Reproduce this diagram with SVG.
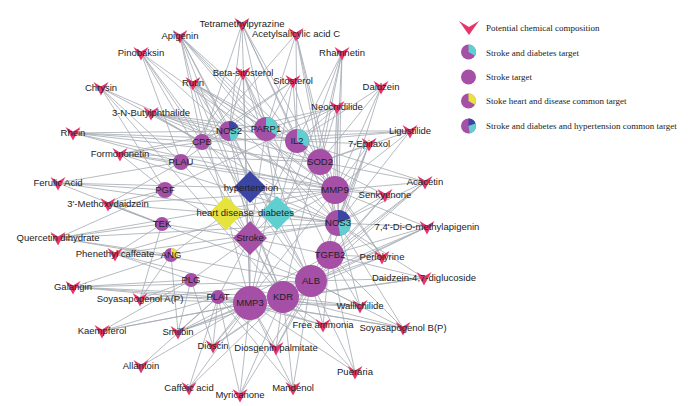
<svg xmlns="http://www.w3.org/2000/svg" xmlns:xlink="http://www.w3.org/1999/xlink" width="689" height="406" viewBox="0 0 689 406">
<style>
.e{stroke:#a3aab1;stroke-width:0.8;fill:none}
.lb{font-family:"Liberation Sans",Arial,sans-serif;font-size:9.5px;fill:#222;text-anchor:middle}
.lg{font-family:"Liberation Serif","Times New Roman",serif;font-size:9px;fill:#222}
.p{fill:#a54fa6}
.cy{fill:#5fcfd0}
.ye{fill:#e6e43c}
.bl{fill:#3b45a3}
.v{fill:#e8346b}
</style>
<defs>
<path id="v" class="v" d="M-7.5 -6L0 -1.5L7.5 -6L0 7.5Z"/>
</defs>
<rect width="689" height="406" fill="#fff"/>
<g id="connectors">
<path class="e" d="M180 36L229 131M180 36L266 129M180 36L202 142M180 36L320 162M180 36L335 190M180 36L338 223M180 36L311 281M180 36L283 297M180 36L250 303"/>
<path class="e" d="M242 24L229 131M242 24L266 129M242 24L297 141M242 24L202 142M242 24L335 190M242 24L338 223M242 24L250 303"/>
<path class="e" d="M296 34L266 129M296 34L297 141M296 34L320 162M296 34L338 223M296 34L335 190M296 34L202 142"/>
<path class="e" d="M141 53L229 131M141 53L202 142M141 53L181 162M141 53L335 190M141 53L311 281M141 53L283 297"/>
<path class="e" d="M342 53L297 141M342 53L320 162M342 53L335 190M342 53L338 223M342 53L283 297M342 53L250 303"/>
<path class="e" d="M193 83L229 131M193 83L266 129M193 83L297 141M193 83L320 162M193 83L335 190M193 83L338 223M193 83L311 281M193 83L283 297"/>
<path class="e" d="M243 73L229 131M243 73L266 129M243 73L181 162M243 73L335 190M243 73L330 255M243 73L311 281M243 73L250 303"/>
<path class="e" d="M293 81L266 129M293 81L297 141M293 81L202 142M293 81L338 223M293 81L250 303M293 81L181 162"/>
<path class="e" d="M101 88L202 142M101 88L181 162M101 88L165 190M101 88L335 190M101 88L283 297"/>
<path class="e" d="M381 87L297 141M381 87L320 162M381 87L335 190M381 87L338 223"/>
<path class="e" d="M337 107L229 131M337 107L266 129M337 107L165 190M337 107L297 141M337 107L320 162M337 107L338 223M337 107L330 255"/>
<path class="e" d="M151 113L229 131M151 113L202 142M151 113L266 129M151 113L297 141M151 113L320 162M151 113L335 190M151 113L338 223"/>
<path class="e" d="M410 131L297 141M410 131L320 162M410 131L335 190M410 131L338 223M410 131L202 142M410 131L229 131"/>
<path class="e" d="M73 133L229 131M73 133L202 142M73 133L181 162M73 133L297 141M73 133L320 162M73 133L335 190"/>
<path class="e" d="M369 144L297 141M369 144L320 162M369 144L335 190M369 144L338 223M369 144L330 255M369 144L311 281"/>
<path class="e" d="M120 154L202 142M120 154L181 162M120 154L165 190M120 154L335 190M120 154L338 223M120 154L320 162M120 154L229 131"/>
<path class="e" d="M425 182L320 162M425 182L335 190M425 182L338 223M425 182L330 255M425 182L283 297M425 182L311 281M425 182L297 141"/>
<path class="e" d="M385 195L320 162M385 195L335 190M385 195L338 223M385 195L330 255M385 195L311 281M385 195L181 162"/>
<path class="e" d="M58 183L181 162M58 183L165 190M58 183L162 224M58 183L335 190M58 183L338 223"/>
<path class="e" d="M108 204L165 190M108 204L162 224M108 204L181 162M108 204L335 190M108 204L338 223M108 204L311 281"/>
<path class="e" d="M427 227L335 190M427 227L338 223M427 227L330 255M427 227L311 281M427 227L283 297M427 227L250 303"/>
<path class="e" d="M58 238L162 224M58 238L171 255M58 238L165 190M58 238L338 223M58 238L335 190M58 238L311 281"/>
<path class="e" d="M115 254L171 255M115 254L162 224M115 254L191 280M115 254L338 223M115 254L283 297M115 254L335 190"/>
<path class="e" d="M382 257L338 223M382 257L330 255M382 257L311 281M382 257L283 297M382 257L335 190M382 257L320 162"/>
<path class="e" d="M424 278L330 255M424 278L311 281M424 278L283 297M424 278L338 223M424 278L250 303"/>
<path class="e" d="M73 287L191 280M73 287L218 297M73 287L171 255M73 287L250 303M73 287L283 297M73 287L311 281"/>
<path class="e" d="M140 299L191 280M140 299L218 297M140 299L250 303M140 299L171 255M140 299L162 224M140 299L311 281"/>
<path class="e" d="M360 306L311 281M360 306L283 297M360 306L330 255M360 306L250 303M360 306L338 223M360 306L218 297"/>
<path class="e" d="M102 331L218 297M102 331L191 280M102 331L250 303M102 331L283 297"/>
<path class="e" d="M178 332L218 297M178 332L191 280M178 332L250 303M178 332L283 297M178 332L311 281M178 332L330 255M178 332L171 255"/>
<path class="e" d="M323 325L283 297M323 325L311 281M323 325L250 303M323 325L330 255M323 325L218 297"/>
<path class="e" d="M403 328L311 281M403 328L283 297M403 328L330 255M403 328L250 303M403 328L218 297M403 328L338 223"/>
<path class="e" d="M213 346L250 303M213 346L218 297M213 346L283 297M213 346L191 280M213 346L311 281M213 346L335 190"/>
<path class="e" d="M276 348L250 303M276 348L283 297M276 348L311 281M276 348L218 297M276 348L330 255"/>
<path class="e" d="M141 366L218 297M141 366L250 303"/>
<path class="e" d="M355 372L311 281M355 372L283 297M355 372L330 255M355 372L250 303"/>
<path class="e" d="M189 388L250 303M189 388L218 297M189 388L283 297"/>
<path class="e" d="M293 388L250 303M293 388L283 297M293 388L311 281M293 388L218 297"/>
<path class="e" d="M240 395L250 303M240 395L283 297M240 395L218 297M240 395L311 281"/>
<path class="e" d="M250 238L229 131M250 238L266 129M250 238L297 141M250 238L202 142M250 238L181 162M250 238L320 162M250 238L165 190M250 238L335 190M250 238L338 223M250 238L162 224M250 238L171 255M250 238L330 255M250 238L191 280M250 238L311 281M250 238L218 297M250 238L250 303M250 238L283 297"/>
<path class="e" d="M277 213L229 131M277 213L266 129M277 213L297 141M277 213L338 223M250 187L229 131M250 187L338 223M226 213L171 255"/>
</g>
<g id="disease-nodes">
<g id="d-hypertension"><polygon class="bl" points="250,171 266,187 250,203 234,187"/><text class="lb" x="251" y="191">hypertension</text></g>
<g id="d-heart-disease"><polygon class="ye" points="226,196 243,213 226,230 209,213"/><text class="lb" x="225" y="216">heart disease</text></g>
<g id="d-diabetes"><polygon class="cy" points="277,196 294,213 277,230 260,213"/><text class="lb" x="276" y="216">diabetes</text></g>
<g id="d-stroke"><polygon class="p" points="250,221 267,238 250,255 233,238"/><text class="lb" x="250" y="241">Stroke</text></g>
</g>
<g id="targets">
<g id="t-nos2"><circle class="p" cx="229" cy="131" r="10"/><path class="bl" d="M229 131L229 121A10 10 0 0 1 238.4 127.58Z"/><path class="cy" d="M229 131L238.4 127.58A10 10 0 0 1 230.74 140.85Z"/><text class="lb" x="229" y="134.3">NOS2</text></g>
<g id="t-parp1"><circle class="p" cx="266" cy="129" r="12"/><path class="cy" d="M266 129L266 117A12 12 0 0 1 276.39 135Z"/><text class="lb" x="266" y="132.3">PARP1</text></g>
<g id="t-il2"><circle class="p" cx="297" cy="141" r="12"/><path class="cy" d="M297 141L297 129A12 12 0 0 1 307.39 147Z"/><text class="lb" x="297" y="144.3">IL2</text></g>
<g id="t-cpb"><circle class="p" cx="202" cy="142" r="8"/><text class="lb" x="202" y="145.3">CPB</text></g>
<g id="t-plau"><circle class="p" cx="181" cy="162" r="8"/><text class="lb" x="181" y="165.3">PLAU</text></g>
<g id="t-sod2"><circle class="p" cx="320" cy="162" r="13"/><text class="lb" x="320" y="165.3">SOD2</text></g>
<g id="t-pgf"><circle class="p" cx="165" cy="190" r="8"/><text class="lb" x="165" y="193.3">PGF</text></g>
<g id="t-mmp9"><circle class="p" cx="335" cy="190" r="14"/><text class="lb" x="335" y="193.3">MMP9</text></g>
<g id="t-nos3"><circle class="p" cx="338" cy="223" r="13"/><path class="bl" d="M338 223L338 210A13 13 0 0 1 350.22 218.55Z"/><path class="cy" d="M338 223L350.22 218.55A13 13 0 0 1 340.26 235.8Z"/><text class="lb" x="338" y="226.3">NOS3</text></g>
<g id="t-tek"><circle class="p" cx="162" cy="224" r="7"/><text class="lb" x="162" y="227.3">TEK</text></g>
<g id="t-ang"><circle class="p" cx="171" cy="255" r="7"/><path class="ye" d="M171 255L171 248A7 7 0 0 1 177.06 258.5Z"/><text class="lb" x="171" y="258.3">ANG</text></g>
<g id="t-tgfb2"><circle class="p" cx="330" cy="255" r="14"/><text class="lb" x="330" y="258.3">TGFB2</text></g>
<g id="t-plg"><circle class="p" cx="191" cy="280" r="7"/><text class="lb" x="191" y="283.3">PLG</text></g>
<g id="t-alb"><circle class="p" cx="311" cy="281" r="16"/><text class="lb" x="311" y="284.3">ALB</text></g>
<g id="t-plat"><circle class="p" cx="218" cy="297" r="7"/><text class="lb" x="218" y="300.3">PLAT</text></g>
<g id="t-mmp3"><circle class="p" cx="250" cy="303" r="17"/><text class="lb" x="250" y="306.3">MMP3</text></g>
<g id="t-kdr"><circle class="p" cx="283" cy="297" r="16"/><text class="lb" x="283" y="300.3">KDR</text></g>
</g>
<g id="compounds">
<g id="c-apigenin"><use xlink:href="#v" x="180" y="36"/><text class="lb" x="180" y="39.3">Apigenin</text></g>
<g id="c-tetramethylpyrazine"><use xlink:href="#v" x="242" y="24"/><text class="lb" x="242" y="27.3">Tetramethylpyrazine</text></g>
<g id="c-acetylsalicylic"><use xlink:href="#v" x="296" y="34"/><text class="lb" x="296" y="37.3">Acetylsalicylic acid C</text></g>
<g id="c-pinobaksin"><use xlink:href="#v" x="141" y="53"/><text class="lb" x="141" y="56.3">Pinobaksin</text></g>
<g id="c-rhamnetin"><use xlink:href="#v" x="342" y="53"/><text class="lb" x="342" y="56.3">Rhamnetin</text></g>
<g id="c-rutin"><use xlink:href="#v" x="193" y="83"/><text class="lb" x="193" y="86.3">Rutin</text></g>
<g id="c-beta-sitosterol"><use xlink:href="#v" x="243" y="73"/><text class="lb" x="243" y="76.3">Beta-sitosterol</text></g>
<g id="c-sitosterol"><use xlink:href="#v" x="293" y="81"/><text class="lb" x="293" y="84.3">Sitosterol</text></g>
<g id="c-chrysin"><use xlink:href="#v" x="101" y="88"/><text class="lb" x="101" y="91.3">Chrysin</text></g>
<g id="c-daidzein"><use xlink:href="#v" x="381" y="87"/><text class="lb" x="381" y="90.3">Daidzein</text></g>
<g id="c-neocnidilide"><use xlink:href="#v" x="337" y="107"/><text class="lb" x="337" y="110.3">Neocnidilide</text></g>
<g id="c-butylphthalide"><use xlink:href="#v" x="151" y="113"/><text class="lb" x="151" y="116.3">3-N-Butylphthalide</text></g>
<g id="c-ligustilide"><use xlink:href="#v" x="410" y="131"/><text class="lb" x="410" y="134.3">Ligustilide</text></g>
<g id="c-rhein"><use xlink:href="#v" x="73" y="133"/><text class="lb" x="73" y="136.3">Rhein</text></g>
<g id="c-epitaxol"><use xlink:href="#v" x="369" y="144"/><text class="lb" x="369" y="147.3">7-Epitaxol</text></g>
<g id="c-formononetin"><use xlink:href="#v" x="120" y="154"/><text class="lb" x="120" y="157.3">Formononetin</text></g>
<g id="c-acacetin"><use xlink:href="#v" x="425" y="182"/><text class="lb" x="425" y="185.3">Acacetin</text></g>
<g id="c-senkyunone"><use xlink:href="#v" x="385" y="195"/><text class="lb" x="385" y="198.3">Senkyunone</text></g>
<g id="c-ferulic"><use xlink:href="#v" x="58" y="183"/><text class="lb" x="58" y="186.3">Ferulic Acid</text></g>
<g id="c-methoxydaidzein"><use xlink:href="#v" x="108" y="204"/><text class="lb" x="108" y="207.3">3'-Methoxydaidzein</text></g>
<g id="c-dimethylapigenin"><use xlink:href="#v" x="427" y="227"/><text class="lb" x="427" y="230.3">7,4'-Di-O-methylapigenin</text></g>
<g id="c-quercetin"><use xlink:href="#v" x="58" y="238"/><text class="lb" x="58" y="241.3">Quercetin dihydrate</text></g>
<g id="c-phenethyl"><use xlink:href="#v" x="115" y="254"/><text class="lb" x="115" y="257.3">Phenethyl caffeate</text></g>
<g id="c-perlolyrine"><use xlink:href="#v" x="382" y="257"/><text class="lb" x="382" y="260.3">Perlolyrine</text></g>
<g id="c-daidzein-glucoside"><use xlink:href="#v" x="424" y="278"/><text class="lb" x="424" y="281.3">Daidzein-4,7-diglucoside</text></g>
<g id="c-galangin"><use xlink:href="#v" x="73" y="287"/><text class="lb" x="73" y="290.3">Galangin</text></g>
<g id="c-soyasapogenol-a"><use xlink:href="#v" x="140" y="299"/><text class="lb" x="140" y="302.3">Soyasapogenol A(P)</text></g>
<g id="c-wallichilide"><use xlink:href="#v" x="360" y="306"/><text class="lb" x="360" y="309.3">Wallichilide</text></g>
<g id="c-kaempferol"><use xlink:href="#v" x="102" y="331"/><text class="lb" x="102" y="334.3">Kaempferol</text></g>
<g id="c-smilbin"><use xlink:href="#v" x="178" y="332"/><text class="lb" x="178" y="335.3">Smilbin</text></g>
<g id="c-free-ammonia"><use xlink:href="#v" x="323" y="325"/><text class="lb" x="323" y="328.3">Free ammonia</text></g>
<g id="c-soyasapogenol-b"><use xlink:href="#v" x="403" y="328"/><text class="lb" x="403" y="331.3">Soyasapogenol B(P)</text></g>
<g id="c-dioscin"><use xlink:href="#v" x="213" y="346"/><text class="lb" x="213" y="349.3">Dioscin</text></g>
<g id="c-diosgenin"><use xlink:href="#v" x="276" y="348"/><text class="lb" x="276" y="351.3">Diosgenin palmitate</text></g>
<g id="c-allantoin"><use xlink:href="#v" x="141" y="366"/><text class="lb" x="141" y="369.3">Allantoin</text></g>
<g id="c-pueraria"><use xlink:href="#v" x="355" y="372"/><text class="lb" x="355" y="375.3">Pueraria</text></g>
<g id="c-caffeic"><use xlink:href="#v" x="189" y="388"/><text class="lb" x="189" y="391.3">Caffeic acid</text></g>
<g id="c-mandenol"><use xlink:href="#v" x="293" y="388"/><text class="lb" x="293" y="391.3">Mandenol</text></g>
<g id="c-myricanone"><use xlink:href="#v" x="240" y="395"/><text class="lb" x="240" y="398.3">Myricanone</text></g>
</g>
<g id="legend">
<path class="v" d="M459 21L469 27L479 21L469 35Z"/>
<text class="lg" x="486" y="31">Potential chemical composition</text>
<circle class="p" cx="468.5" cy="52" r="7.5"/><path class="cy" d="M468.5 52L468.5 44.5A7.5 7.5 0 0 1 474.995 55.75Z"/>
<text class="lg" x="486" y="56">Stroke and diabetes target</text>
<circle class="p" cx="468.5" cy="77" r="7.5"/>
<text class="lg" x="486" y="80">Stroke target</text>
<circle class="p" cx="468.5" cy="101" r="7.5"/><path class="ye" d="M468.5 101L468.5 93.5A7.5 7.5 0 0 1 474.995 104.75Z"/>
<text class="lg" x="486" y="104">Stoke heart and disease common target</text>
<circle class="p" cx="468.5" cy="126" r="7.5"/><path class="bl" d="M468.5 126L468.5 118.5A7.5 7.5 0 0 1 475.55 123.43Z"/><path class="cy" d="M468.5 126L475.55 123.43A7.5 7.5 0 0 1 469.8 133.39Z"/>
<text class="lg" x="486" y="129">Stroke and diabetes and hypertension common target</text>
</g>
</svg>
